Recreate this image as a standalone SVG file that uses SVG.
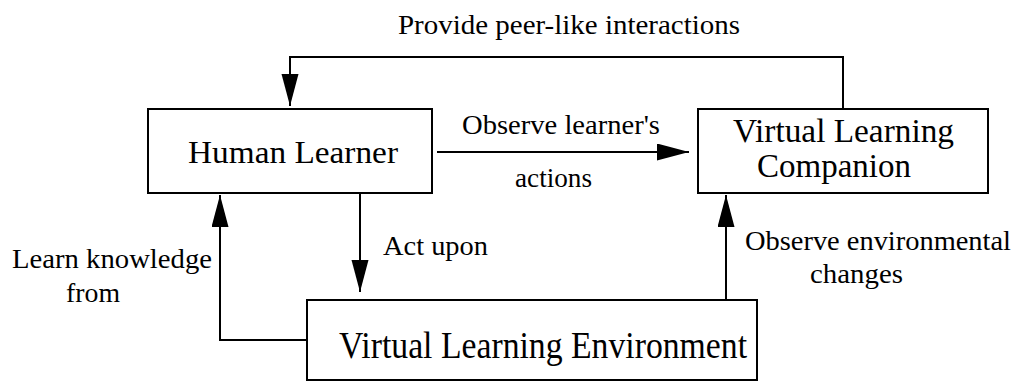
<svg xmlns="http://www.w3.org/2000/svg" width="1016" height="384" viewBox="0 0 1016 384">
  <style>
    .box { fill: #ffffff; stroke: #000000; stroke-width: 2; }
    .node-text { font-family: 'Liberation Serif', 'Times New Roman', 'DejaVu Serif', serif; font-size: 32px; fill: #000000; }
    .label { font-family: 'Liberation Serif', 'Times New Roman', 'DejaVu Serif', serif; font-size: 28px; fill: #000000; }
    .conn { fill: none; stroke: #000000; stroke-width: 2; }
  </style>
  <defs>
    <marker id="arrow" markerUnits="userSpaceOnUse" markerWidth="33" markerHeight="18" refX="32" refY="8.5" orient="auto">
      <path d="M0,0 L32,8.5 L0,17 Z" fill="#000000"/>
    </marker>
  </defs>
  <rect width="1016" height="384" fill="#ffffff"/>

  <g id="connectors">
    <path id="c-peer" class="conn" d="M843,108 V57 H290 V106" marker-end="url(#arrow)"/>
    <path id="c-observe-actions" class="conn" d="M437,152 H689" marker-end="url(#arrow)"/>
    <path id="c-act-upon" class="conn" d="M360,194 V292" marker-end="url(#arrow)"/>
    <path id="c-learn" class="conn" d="M307,340 H220 V195" marker-end="url(#arrow)"/>
    <path id="c-observe-env" class="conn" d="M726,300 V195" marker-end="url(#arrow)"/>
  </g>

  <g id="labels">
    <text class="label" x="398" y="34" textLength="342" lengthAdjust="spacingAndGlyphs">Provide peer-like interactions</text>
    <text class="label" x="462" y="134" textLength="198" lengthAdjust="spacingAndGlyphs">Observe learner's</text>
    <text class="label" x="515" y="187" textLength="77" lengthAdjust="spacingAndGlyphs">actions</text>
    <text class="label" x="383" y="255" textLength="105" lengthAdjust="spacingAndGlyphs">Act upon</text>
    <text class="label" x="12" y="268" textLength="200" lengthAdjust="spacingAndGlyphs">Learn knowledge</text>
    <text class="label" x="66" y="302" textLength="54" lengthAdjust="spacingAndGlyphs">from</text>
    <text class="label" x="745" y="250" textLength="266" lengthAdjust="spacingAndGlyphs">Observe environmental</text>
    <text class="label" x="810" y="283" textLength="93" lengthAdjust="spacingAndGlyphs">changes</text>
  </g>

  <g id="human-learner">
    <rect class="box" x="148" y="109" width="284" height="84"/>
    <text class="node-text" x="188" y="163" textLength="210" lengthAdjust="spacingAndGlyphs">Human Learner</text>
  </g>

  <g id="virtual-learning-companion">
    <rect class="box" x="698" y="109" width="290" height="84"/>
    <text class="node-text" style="font-size:33px" x="733" y="142" textLength="221" lengthAdjust="spacingAndGlyphs">Virtual Learning</text>
    <text class="node-text" style="font-size:33px" x="757" y="177" textLength="154" lengthAdjust="spacingAndGlyphs">Companion</text>
  </g>

  <g id="virtual-learning-environment">
    <rect class="box" x="307" y="300" width="450" height="80"/>
    <text class="node-text" style="font-size:37px" x="339" y="358" textLength="408" lengthAdjust="spacingAndGlyphs">Virtual Learning Environment</text>
  </g>
</svg>
